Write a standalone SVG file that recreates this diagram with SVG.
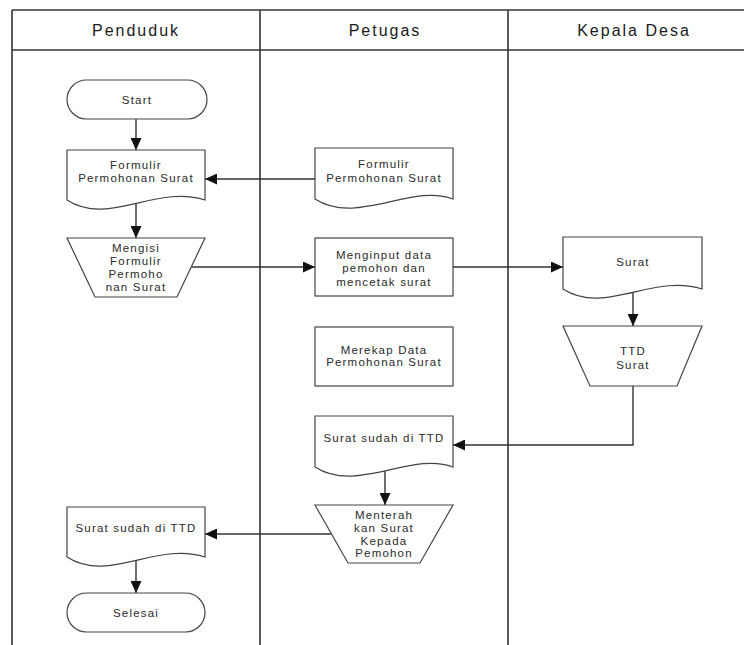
<svg xmlns="http://www.w3.org/2000/svg" width="744" height="645" viewBox="0 0 744 645">
<style>
.lane{stroke:#333;stroke-width:1.6;fill:none}
.hdr{font-family:"Liberation Sans",Arial,sans-serif;font-size:16px;fill:#1a1a1a;letter-spacing:2px;text-anchor:middle}
.shape{fill:#fff;stroke:#444;stroke-width:1.2}
.t{font-family:"Liberation Sans",Arial,sans-serif;font-size:11.5px;fill:#2a2a2a;letter-spacing:1.2px;text-anchor:middle}
.con{fill:none;stroke:#333;stroke-width:1.4}
</style>
<defs>
<marker id="arr" markerUnits="userSpaceOnUse" markerWidth="13" markerHeight="11" refX="12" refY="5.5" orient="auto">
<path d="M0,0 L12,5.5 L0,11 Z" fill="#111"/>
</marker>
</defs>
<rect width="744" height="645" fill="#fff"/>
<g id="lanes">
<line class="lane" x1="12" y1="10" x2="744" y2="10"/>
<line class="lane" x1="12" y1="50" x2="744" y2="50"/>
<line class="lane" x1="12" y1="10" x2="12" y2="645"/>
<line class="lane" x1="260" y1="10" x2="260" y2="645"/>
<line class="lane" x1="508" y1="10" x2="508" y2="645"/>
<text class="hdr" x="136" y="36">Penduduk</text>
<text class="hdr" x="385" y="36">Petugas</text>
<text class="hdr" x="634" y="36">Kepala Desa</text>
</g>
<g id="connectors">
<line class="con" x1="136" y1="119" x2="136" y2="150" marker-end="url(#arr)"/>
<line class="con" x1="315" y1="179" x2="205" y2="179" marker-end="url(#arr)"/>
<line class="con" x1="136" y1="204" x2="136" y2="238" marker-end="url(#arr)"/>
<line class="con" x1="191" y1="267" x2="315" y2="267" marker-end="url(#arr)"/>
<line class="con" x1="453" y1="267" x2="563" y2="267" marker-end="url(#arr)"/>
<line class="con" x1="633" y1="293" x2="633" y2="326" marker-end="url(#arr)"/>
<polyline class="con" points="633,386 633,445 453,445" marker-end="url(#arr)"/>
<line class="con" x1="385" y1="471" x2="385" y2="505" marker-end="url(#arr)"/>
<line class="con" x1="331" y1="534" x2="205" y2="534" marker-end="url(#arr)"/>
<line class="con" x1="136" y1="561" x2="136" y2="593" marker-end="url(#arr)"/>
</g>
<g id="start">
<rect class="shape" x="67" y="80" width="140" height="39" rx="19.5"/>
<text class="t" x="137" y="104">Start</text>
</g>
<g id="formulir-penduduk">
<path class="shape" d="M67,150 H205 V200 C156.7,184 108.4,227 67,200 Z"/>
<text class="t" x="136" y="169">Formulir</text>
<text class="t" x="136" y="182">Permohonan Surat</text>
</g>
<g id="mengisi">
<polygon class="shape" points="67,238 205,238 177,297 95,297"/>
<text class="t" x="136" y="252">Mengisi</text>
<text class="t" x="136" y="265">Formulir</text>
<text class="t" x="136" y="278">Permoho</text>
<text class="t" x="136" y="291">nan Surat</text>
</g>
<g id="formulir-petugas">
<path class="shape" d="M315,148 H453 V199 C411.7,183 356.4,226 315,199 Z"/>
<text class="t" x="384" y="168">Formulir</text>
<text class="t" x="384" y="182">Permohonan Surat</text>
</g>
<g id="menginput">
<rect class="shape" x="315" y="238" width="138" height="58"/>
<text class="t" x="384" y="259">Menginput data</text>
<text class="t" x="384" y="272">pemohon dan</text>
<text class="t" x="384" y="286">mencetak surat</text>
</g>
<g id="merekap">
<rect class="shape" x="315" y="327" width="138" height="59"/>
<text class="t" x="384" y="354">Merekap Data</text>
<text class="t" x="384" y="366">Permohonan Surat</text>
</g>
<g id="surat">
<path class="shape" d="M563,237 H702 V289 C653.4,273 604.7,316 563,289 Z"/>
<text class="t" x="633" y="266">Surat</text>
</g>
<g id="ttd">
<polygon class="shape" points="563,326 702,326 677,386 590,386"/>
<text class="t" x="633" y="355">TTD</text>
<text class="t" x="633" y="369">Surat</text>
</g>
<g id="surat-ttd-petugas">
<path class="shape" d="M315,416 H453 V467 C411.7,451 356.4,494 315,467 Z"/>
<text class="t" x="384" y="442">Surat sudah di TTD</text>
</g>
<g id="menterahkan">
<polygon class="shape" points="315,505 453,505 420,563 348,563"/>
<text class="t" x="384" y="519">Menterah</text>
<text class="t" x="384" y="532">kan Surat</text>
<text class="t" x="384" y="545">Kepada</text>
<text class="t" x="384" y="557">Pemohon</text>
</g>
<g id="surat-ttd-penduduk">
<path class="shape" d="M67,507 H205 V557 C156.7,541 108.4,584 67,557 Z"/>
<text class="t" x="136" y="532">Surat sudah di TTD</text>
</g>
<g id="selesai">
<rect class="shape" x="67" y="593" width="138" height="39" rx="19.5"/>
<text class="t" x="136" y="617">Selesai</text>
</g>
</svg>
